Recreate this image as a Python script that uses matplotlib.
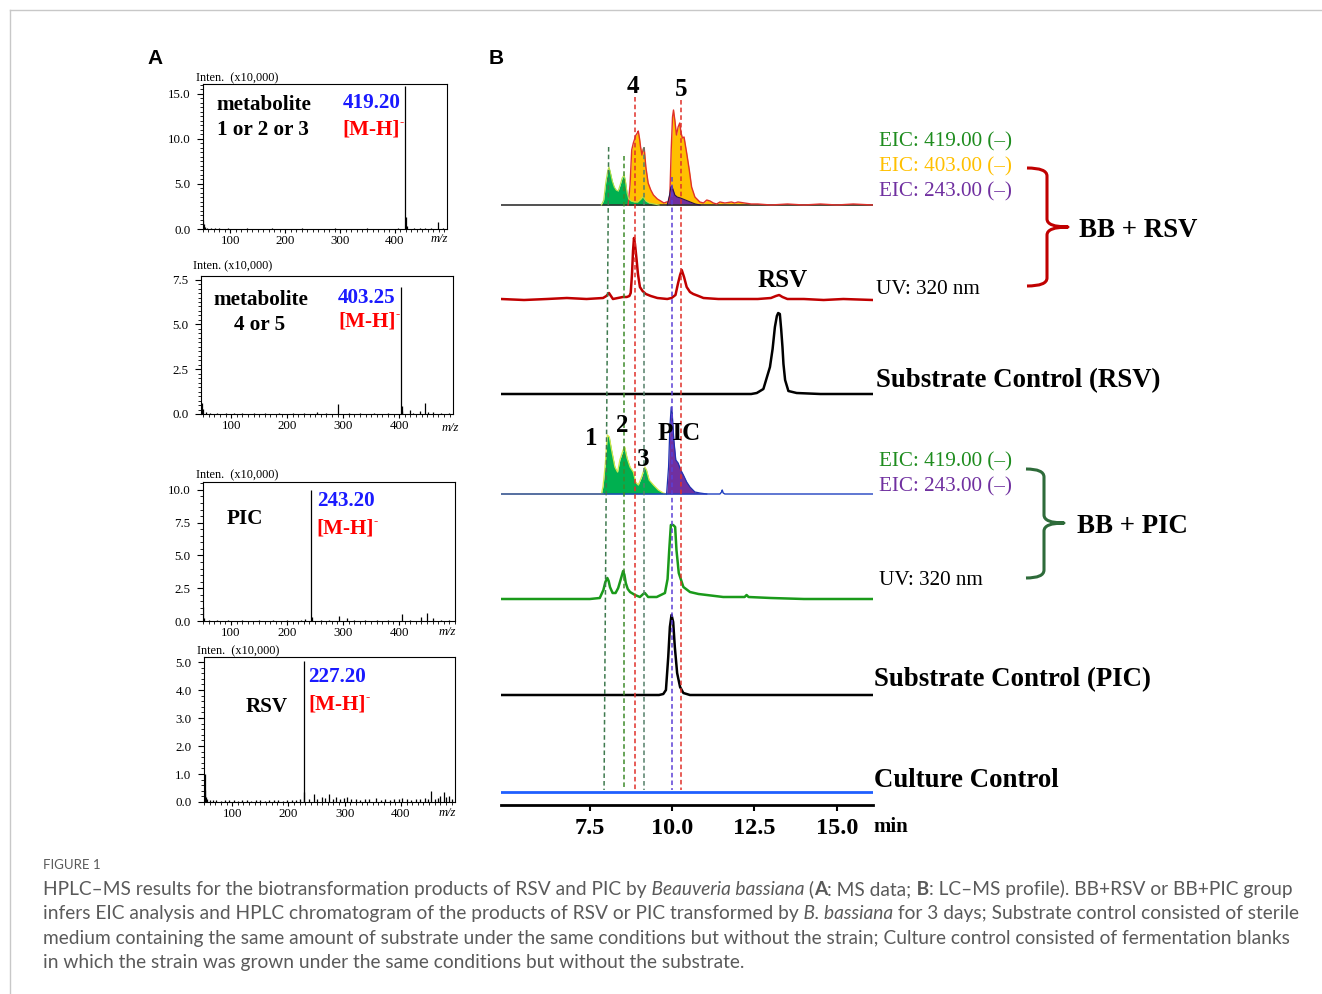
import matplotlib
matplotlib.use("Agg")
import matplotlib.pyplot as plt
from matplotlib.path import Path
from matplotlib.patches import PathPatch
from matplotlib.ticker import MultipleLocator, FormatStrFormatter

W, H = 1322, 994
SERIF = ['Liberation Serif', 'DejaVu Serif']
SANS = ['Liberation Sans', 'DejaVu Sans']
CAP = ['Lato', 'DejaVu Sans']

# ---------------- panel A: MS spectra (m/z vs intensity x10,000) ----------------
MS1_MZ = [50, 51, 53, 58, 65, 72, 80, 95, 110, 130, 150, 175, 200, 230, 260,
          290, 320, 350, 380, 405, 419.2, 420.2, 421.2, 435, 445, 455, 466, 478, 488]
MS1_I = [1.0, 0.5, 0.25, 0.1, 0.1, 0.08, 0.1, 0.06, 0.05, 0.06, 0.05, 0.06, 0.05, 0.06, 0.05,
         0.06, 0.05, 0.07, 0.05, 0.08, 15.9, 1.3, 0.3, 0.1, 0.15, 0.12, 0.1, 0.8, 0.1]

MS2_MZ = [47, 49, 55, 62, 75, 90, 105, 120, 140, 160, 185, 210, 230, 253, 270,
          290.5, 310, 330, 355, 380, 403.25, 404.3, 405, 419.6, 425, 437.5, 446.4, 452, 461, 475, 488]
MS2_I = [0.6, 0.3, 0.1, 0.08, 0.05, 0.05, 0.06, 0.05, 0.05, 0.06, 0.05, 0.05, 0.06, 0.12, 0.06,
         0.55, 0.06, 0.05, 0.06, 0.06, 7.1, 0.45, 0.15, 0.25, 0.08, 0.15, 0.6, 0.1, 0.12, 0.06, 0.05]

MS3_MZ = [50, 52, 60, 75, 95, 120, 150, 175, 200, 225, 233, 243.2, 244.2, 260, 275,
          292.9, 306.6, 320, 340, 360, 380, 406, 420, 440, 450, 461, 475, 490]
MS3_I = [1.1, 0.2, 0.08, 0.05, 0.05, 0.06, 0.05, 0.05, 0.06, 0.05, 0.12, 10.0, 0.3, 0.08, 0.1,
         0.38, 0.25, 0.08, 0.07, 0.08, 0.1, 0.53, 0.1, 0.33, 0.58, 0.2, 0.1, 0.08]

MS4_MZ = [51, 52, 53, 55, 60, 66, 72, 80, 88, 95, 103, 110, 118, 126, 134, 142, 150, 158, 166, 174,
          182, 190, 198, 206, 214, 220, 227.2, 228.2, 236, 244.6, 250, 259, 265, 272, 279, 285, 292,
          298, 304, 312, 320, 328, 336, 344, 356, 364, 372, 380, 388, 396, 402, 410, 418, 426, 434,
          442, 448, 454, 460, 466, 470, 476, 480, 485, 490]
MS4_I = [0.42, 1.01, 0.19, 0.1, 0.08, 0.06, 0.07, 0.05, 0.08, 0.06, 0.07, 0.05, 0.06, 0.08, 0.05,
         0.07, 0.06, 0.05, 0.08, 0.06, 0.07, 0.05, 0.06, 0.08, 0.06, 0.09, 5.05, 0.35, 0.1, 0.3,
         0.12, 0.19, 0.15, 0.28, 0.12, 0.18, 0.1, 0.14, 0.19, 0.1, 0.12, 0.08, 0.1, 0.09, 0.14,
         0.08, 0.1, 0.07, 0.09, 0.1, 0.16, 0.1, 0.08, 0.12, 0.09, 0.13, 0.1, 0.39, 0.12, 0.15,
         0.2, 0.37, 0.18, 0.2, 0.12]

# ---------------- panel B: LC-MS profiles (time in min, signal height) ----------------
RSV_EIC419_T = [7.85, 7.92, 7.98, 8.04, 8.08, 8.12, 8.18, 8.24, 8.30, 8.36, 8.42, 8.48, 8.54,
                8.58, 8.63, 8.68, 8.75, 8.85, 8.95, 9.05, 9.10, 9.14, 9.20, 9.30, 9.45, 9.60]
RSV_EIC419_H = [0, 5, 22, 34, 38, 33, 24, 18, 15, 14, 20, 27, 30,
                24, 12, 6, 4, 3, 3, 6, 8, 7, 4, 2, 1, 0]

RSV_EIC403_T = [8.66, 8.72, 8.77, 8.82, 8.86, 8.90, 8.94, 8.97, 9.01, 9.04, 9.08, 9.12, 9.15,
                9.20, 9.27, 9.35, 9.43, 9.55, 9.65, 9.75, 9.83, 9.89, 9.93, 9.97, 10.01, 10.04,
                10.08, 10.13, 10.18, 10.23, 10.27, 10.31, 10.36, 10.44, 10.52, 10.59, 10.69,
                10.84, 10.95, 11.05, 11.15, 11.25, 11.35, 11.45, 11.6, 11.8, 11.9, 12.0, 12.2,
                12.4, 12.6, 13.0, 13.5, 14.0, 14.5, 15.0, 15.5, 16.1]
RSV_EIC403_H = [0, 20, 55, 62, 66, 70, 72, 74, 66, 58, 50, 56, 57,
                38, 22, 15, 10, 6, 4, 2, 3, 3, 10, 55, 88, 95,
                85, 70, 78, 82, 72, 67, 68, 52, 35, 18, 8,
                3, 2, 5, 4, 2, 1, 3, 2, 3, 2, 3, 2,
                1, 1, 0, 1, 0, 1, 0, 1, 0]

RSV_EIC243_T = [9.85, 9.92, 9.96, 9.99, 10.03, 10.08, 10.15, 10.25, 10.4, 10.55, 10.7, 10.85]
RSV_EIC243_H = [0, 10, 18, 19, 15, 10, 8, 7, 5, 3, 1, 0]

RSV_UV_T = [4.8, 5.5, 6.2, 6.8, 7.4, 7.9, 8.0, 8.08, 8.14, 8.2, 8.35, 8.5, 8.62, 8.70, 8.74,
            8.78, 8.81, 8.84, 8.87, 8.92, 8.96, 9.02, 9.1, 9.2, 9.35, 9.55, 9.85, 9.98, 10.1,
            10.18, 10.24, 10.29, 10.36, 10.44, 10.54, 10.64, 10.8, 10.95, 11.4, 12.0, 12.6,
            13.0, 13.15, 13.25, 13.35, 13.5, 14.0, 14.6, 15.2, 16.1]
RSV_UV_H = [0, -1, 0, 1, 0, 1, 3, 6, 3, 0, 1, 2, 2, 3, 6,
            25, 48, 61, 55, 39, 25, 12, 8, 5, 3, 1, 0, 1, 4,
            16, 24, 29, 22, 12, 7, 5, 3, 1, 0, 0, 0,
            1, 3, 4, 2, 0, 0, -1, 0, -1]

SUB_RSV_T = [4.8, 12.4, 12.57, 12.77, 12.97, 13.05, 13.12, 13.18, 13.22, 13.27, 13.31, 13.35,
             13.38, 13.43, 13.53, 13.78, 14.5, 16.1]
SUB_RSV_H = [0, 0, 1, 5, 27, 45, 67, 78, 81, 80, 65, 47, 30, 14, 3, 1, 0, 0]

PIC_EIC419_T = [7.85, 7.90, 7.96, 8.03, 8.09, 8.16, 8.26, 8.34, 8.41, 8.51, 8.56, 8.63, 8.72,
                8.82, 8.89, 8.97, 9.07, 9.17, 9.22, 9.30, 9.43, 9.58, 9.73, 9.83]
PIC_EIC419_H = [0, 8, 27, 59, 57, 44, 27, 22, 34, 44, 47, 36, 27,
                22, 12, 9, 17, 27, 24, 14, 9, 4, 1, 0]

PIC_EIC243_T = [9.83, 9.89, 9.93, 9.97, 10.00, 10.05, 10.11, 10.18, 10.26, 10.34, 10.44, 10.54,
                10.69, 10.84, 11.05]
PIC_EIC243_H = [0, 27, 67, 87, 81, 54, 34, 31, 24, 19, 12, 7, 2, 1, 0]

PIC_BASE_T = [4.8, 7.8, 11.45, 11.5, 11.52, 11.55, 11.6, 16.1]
PIC_BASE_H = [0, 0, 0, 2, 4, 1, 0, 0]

PIC_UV_T = [4.8, 7.5, 7.80, 7.91, 7.97, 8.03, 8.07, 8.11, 8.19, 8.28, 8.36, 8.44, 8.51, 8.55,
            8.59, 8.65, 8.72, 8.87, 9.02, 9.12, 9.17, 9.22, 9.27, 9.53, 9.78, 9.86, 9.91, 9.96,
            10.03, 10.09, 10.13, 10.2, 10.34, 10.54, 10.8, 11.05, 11.55, 12.2, 12.26, 12.32,
            13.0, 14.0, 16.1]
PIC_UV_H = [0, 0, 1, 9, 17, 21, 18, 12, 6, 6, 11, 20, 28, 24,
            16, 10, 7, 4, 2, 5, 6, 4, 2, 2, 6, 20, 49, 74,
            74, 72, 49, 26, 12, 7, 5, 4, 2, 2, 4, 2,
            1, 0, 0]

SUB_PIC_T = [4.8, 9.6, 9.73, 9.81, 9.88, 9.93, 9.98, 10.03, 10.08, 10.15, 10.24, 10.34, 10.54, 16.1]
SUB_PIC_H = [0, 0, 1, 5, 38, 68, 80, 73, 48, 22, 8, 2, 0, 0]

CULTURE_T = [4.8, 16.1]
CULTURE_H = [0, 0]

# retention times of metabolites 1, 2, 4, 3, PIC, 5 (first one drifts slightly: top, bottom)
MARK_T_TOP = [8.07, 8.53, 8.87, 9.14, 9.99, 10.27]
MARK_T_BOT = [7.93, 8.53, 8.87, 9.14, 9.99, 10.27]
TICKS_MIN = [7.5, 10.0, 12.5, 15.0]


def px_rect(l, t, r, b):
    return [l / W, 1 - b / H, (r - l) / W, (b - t) / H]


fig = plt.figure(figsize=(W / 100, H / 100), dpi=100)
fig.patch.set_facecolor('white')


def spectrum(rect, mz, inten, xlim, ylim, yticks, yminor):
    ax = fig.add_axes(px_rect(*rect))
    ax.vlines(mz, 0, inten, color='black', lw=0.9)
    ax.set_xlim(*xlim)
    ax.set_ylim(*ylim)
    ax.set_xticks([100, 200, 300, 400])
    ax.set_yticks(yticks)
    ax.xaxis.set_minor_locator(MultipleLocator(10))
    ax.yaxis.set_minor_locator(MultipleLocator(yminor))
    ax.yaxis.set_major_formatter(FormatStrFormatter('%.1f'))
    ax.tick_params(axis='y', which='major', direction='out', length=4, width=0.8,
                   labelsize=9.3, pad=5)
    ax.tick_params(axis='x', which='major', direction='out', length=3, width=0.8,
                   labelsize=9.3, pad=1)
    ax.tick_params(which='minor', direction='out', length=2, width=0.6)
    for lbl in ax.get_xticklabels() + ax.get_yticklabels():
        lbl.set_family(SERIF)
    for s in ax.spines.values():
        s.set_linewidth(0.8)
    return ax


spectrum((203, 84, 447, 229), MS1_MZ, MS1_I, (50, 495), (0, 16.1), [0, 5, 10, 15], 0.5)
spectrum((201, 276, 453, 414), MS2_MZ, MS2_I, (46, 496), (0, 7.7), [0, 2.5, 5, 7.5], 0.25)
spectrum((203, 482, 455, 621), MS3_MZ, MS3_I, (50, 500), (0, 10.6), [0, 2.5, 5, 7.5, 10], 0.5)
spectrum((204, 657, 455, 802), MS4_MZ, MS4_I, (50, 496), (0, 5.18), [0, 1, 2, 3, 4, 5], 0.2)

# ---------------- panel B chromatograms ----------------
axb = fig.add_axes(px_rect(501, 60, 873, 805))
axb.set_xlim(4.8, 16.1)
axb.set_ylim(0, 745)
for s in ['left', 'right', 'top']:
    axb.spines[s].set_visible(False)
axb.spines['bottom'].set_linewidth(2)
axb.set_yticks([])
axb.set_xticks(TICKS_MIN)
axb.set_xticklabels(['%.1f' % v for v in TICKS_MIN])
axb.tick_params(axis='x', direction='out', length=4, width=1.5, labelsize=17.5, pad=5.5)
for lbl in axb.get_xticklabels():
    lbl.set_family(SERIF)
    lbl.set_fontweight('bold')
axb.patch.set_alpha(0)

GREEN, ORANGE, PURPLE = '#00b050', '#ffc000', '#7030a0'


def shift(vals, base):
    return [base + v for v in vals]


# BB + RSV EIC traces (baseline 600)
b = 600
axb.plot([4.8, 16.1], [b, b], color='#333333', lw=1.2)
axb.fill_between(RSV_EIC403_T, b, shift(RSV_EIC403_H, b), color=ORANGE, lw=0)
axb.plot(RSV_EIC403_T, shift(RSV_EIC403_H, b), color='#e0302a', lw=1.0)
axb.fill_between(RSV_EIC419_T, b, shift(RSV_EIC419_H, b), color=GREEN, lw=0)
axb.plot(RSV_EIC419_T, shift(RSV_EIC419_H, b), color='#b8e04a', lw=0.8)
axb.fill_between(RSV_EIC243_T, b, shift(RSV_EIC243_H, b), color=PURPLE, lw=0)
axb.plot(RSV_EIC243_T, shift(RSV_EIC243_H, b), color='#2a1050', lw=0.8)

axb.plot(RSV_UV_T, shift(RSV_UV_H, 506), color='#c00000', lw=1.8)
axb.plot(SUB_RSV_T, shift(SUB_RSV_H, 411), color='black', lw=1.8)

# BB + PIC EIC traces (baseline 311)
b = 311
axb.plot([4.8, 7.9], [b + 0.5, b + 0.5], color='#d8e040', lw=1.2)
axb.fill_between(PIC_EIC419_T, b, shift(PIC_EIC419_H, b), color=GREEN, lw=0)
axb.plot(PIC_EIC419_T, shift(PIC_EIC419_H, b), color='#d4e84a', lw=0.9)
axb.fill_between(PIC_EIC243_T, b, shift(PIC_EIC243_H, b), color=PURPLE, lw=0)
axb.plot(PIC_EIC243_T, shift(PIC_EIC243_H, b), color='#2030b0', lw=0.9)
axb.plot(PIC_BASE_T, shift(PIC_BASE_H, b), color='#2040c0', lw=1.0)

axb.plot(PIC_UV_T, shift(PIC_UV_H, 206), color='#1a9a1a', lw=1.8)
axb.plot(SUB_PIC_T, shift(SUB_PIC_H, 110), color='black', lw=1.8)
axb.plot(CULTURE_T, shift(CULTURE_H, 13), color='#1f5fff', lw=2)

mark_cols = ['#3f7a4f', '#3d8a2a', '#e0302a', '#55806a', '#5b3fd6', '#e0302a']
mark_top = [147, 156, 97, 147, 177, 100]
for t0, t1, c, top in zip(MARK_T_TOP, MARK_T_BOT, mark_cols, mark_top):
    axb.plot([t0, t1], [805 - top, 15], color=c, lw=1.1, ls=(0, (3, 2)), zorder=5)

# ---------------- overlay for text & decorations (pixel coords) ----------------
ov = fig.add_axes([0, 0, 1, 1], zorder=10)
ov.set_xlim(0, W)
ov.set_ylim(H, 0)
ov.axis('off')
ov.patch.set_alpha(0)

ov.plot([10, W], [10, 10], color='#c8c8c8', lw=1)
ov.plot([10, 10], [10, H], color='#c8c8c8', lw=1)

ov.text(155, 59, 'A', family=SANS, fontweight='bold', fontsize=15, ha='center', va='center')
ov.text(496, 59, 'B', family=SANS, fontweight='bold', fontsize=15, ha='center', va='center')


def serif(x, y, s, fs, color='black', bold=True, ha='left', style='normal'):
    # va='center' centres the box incl. descent, so nudge down a bit
    return ov.text(x, y + fs * 0.13, s, family=SERIF, fontsize=fs, color=color, ha=ha,
                   va='center', fontweight='bold' if bold else 'normal', fontstyle=style)


def mh(x, y, fs=15.2):
    t = serif(x, y, '[M-H]', fs, color='#ff0000')
    ov.annotate('-', xy=(1.0, 0.9), xycoords=t, family=SERIF, fontsize=fs * 0.6,
                color='#ff0000', fontweight='bold', ha='left', va='center')


# panel A labels
for x, y, s in [(196, 77, 'Inten.  (x10,000)'), (193, 265, 'Inten. (x10,000)'),
                (196, 474, 'Inten.  (x10,000)'), (197, 650, 'Inten.  (x10,000)')]:
    serif(x, y, s, 8.8, bold=False)
for x, y in [(439, 238), (450, 427), (447, 631), (447, 812)]:
    serif(x, y, 'm/z', 9, bold=False, ha='center', style='italic')

BLUE = '#1a1aff'
FA = 15.2
serif(216, 103, 'metabolite', FA)
serif(217, 128, '1 or 2 or 3', FA)
serif(343, 101, '419.20', FA, color=BLUE)
mh(342, 128)
serif(213, 298, 'metabolite', FA)
serif(234, 323, '4 or 5', FA)
serif(338, 296, '403.25', FA, color=BLUE)
mh(338, 320)
serif(227, 517, 'PIC', FA)
serif(317, 499, '243.20', FA, color=BLUE)
mh(316, 527)
serif(246, 705, 'RSV', FA)
serif(308, 675, '227.20', FA, color=BLUE)
mh(308, 703)

# panel B labels
for x, y, s in [(633, 84, '4'), (681, 87, '5'), (783, 278, 'RSV'), (591, 436, '1'),
                (622, 423, '2'), (643, 457, '3'), (679, 431, 'PIC')]:
    serif(x, y, s, 18, ha='center')

EIC_G, EIC_O, EIC_P = '#1e8c1e', '#ffc000', '#7030a0'
FE = 15.2
serif(879, 140, 'EIC: 419.00 (\u2013)', FE, color=EIC_G, bold=False)
serif(879, 165, 'EIC: 403.00 (\u2013)', FE, color=EIC_O, bold=False)
serif(879, 190, 'EIC: 243.00 (\u2013)', FE, color=EIC_P, bold=False)
serif(876, 288, 'UV: 320 nm', FE, bold=False)
serif(879, 460, 'EIC: 419.00 (\u2013)', FE, color=EIC_G, bold=False)
serif(879, 485, 'EIC: 243.00 (\u2013)', FE, color=EIC_P, bold=False)
serif(879, 579, 'UV: 320 nm', FE, bold=False)

FT = 19.4
serif(1079, 228, 'BB + RSV', FT)
serif(1077, 524, 'BB + PIC', FT)
serif(876, 378, 'Substrate Control (RSV)', FT)
serif(874, 677, 'Substrate Control (PIC)', FT)
serif(874, 778, 'Culture Control', FT)
serif(873, 825, 'min', 15)


def brace(x0, xv, xtip, yt, ym, yb, color, r=8):
    verts = [(x0, yt), (xv, yt), (xv, yt + r), (xv, ym - r), (xv, ym), (xtip, ym),
             (xv, ym), (xv, ym + r), (xv, yb - r), (xv, yb), (x0, yb)]
    codes = [Path.MOVETO, Path.CURVE3, Path.CURVE3, Path.LINETO, Path.CURVE3, Path.CURVE3,
             Path.CURVE3, Path.CURVE3, Path.LINETO, Path.CURVE3, Path.CURVE3]
    ov.add_patch(PathPatch(Path(verts, codes), fill=False, edgecolor=color, lw=2.2,
                           capstyle='butt', joinstyle='round'))


brace(1027, 1047, 1068, 168, 227, 286, '#c00000')
brace(1026, 1044, 1064, 469, 523, 578, '#2e6b3a')

# ---------------- caption ----------------
CAP_COL = '#5a5a5a'
ov.text(43, 865, 'FIGURE 1', family=CAP, fontsize=9.5, color=CAP_COL, ha='left', va='center')

cap_lines = [
    [('HPLC\u2013MS results for the biotransformation products of RSV and PIC by', 'normal', 'normal'),
     (' Beauveria bassiana', 'italic', 'normal'), (' (', 'normal', 'normal'), ('A', 'normal', 'bold'),
     (': MS data;', 'normal', 'normal'), (' B', 'normal', 'bold'),
     (': LC\u2013MS profile). BB+RSV or BB+PIC group', 'normal', 'normal')],
    [('infers EIC analysis and HPLC chromatogram of the products of RSV or PIC transformed by', 'normal', 'normal'),
     (' B. bassiana', 'italic', 'normal'),
     (' for 3 days; Substrate control consisted of sterile', 'normal', 'normal')],
    [('medium containing the same amount of substrate under the same conditions but without the strain; '
      'Culture control consisted of fermentation blanks', 'normal', 'normal')],
    [('in which the strain was grown under the same conditions but without the substrate.', 'normal', 'normal')],
]

# size the caption so its longest line spans the same width as in the reference
renderer = fig.canvas.get_renderer()
probe = ov.text(0, 0, cap_lines[2][0][0], family=CAP, fontsize=12)
wpx = probe.get_window_extent(renderer).width
probe.remove()
cap_fs = 12 * 1245 / wpx

for i, pieces in enumerate(cap_lines):
    y = 898 + i * 24.4
    prev = None
    for s, st, wt in pieces:
        kw = dict(family=CAP, fontsize=cap_fs, color=CAP_COL, fontstyle=st, fontweight=wt,
                  ha='left', va='bottom')
        if prev is None:
            prev = ov.text(43, y, s, **kw)
        else:
            prev = ov.annotate(s, xy=(1, 0), xycoords=prev, **kw)

fig.savefig('out.png', dpi=100)
